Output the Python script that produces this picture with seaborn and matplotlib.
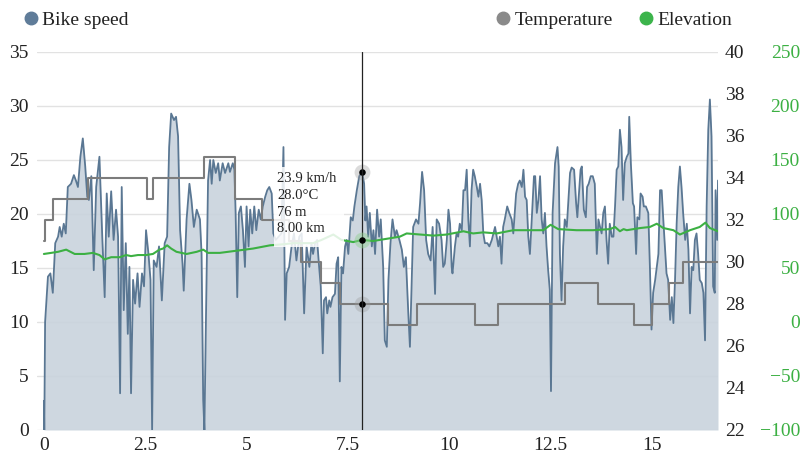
import matplotlib
matplotlib.use("Agg")
import matplotlib.pyplot as plt
from matplotlib.lines import Line2D
from matplotlib.patches import Rectangle
import pandas as pd
import seaborn as sns

# Bike speed (km/h) against distance (km)
speed_km = [
    0.00, 0.01, 0.03, 0.10, 0.16, 0.22, 0.28, 0.35, 0.39, 0.44, 0.49, 0.54, 0.59, 0.67, 0.74, 0.79,
    0.84, 0.90, 0.96, 1.02, 1.07, 1.11, 1.17, 1.23, 1.29, 1.37, 1.44, 1.50, 1.55, 1.60, 1.66, 1.72,
    1.78, 1.83, 1.88, 1.92, 1.97, 2.02, 2.07, 2.11, 2.15, 2.20, 2.25, 2.31, 2.36, 2.42, 2.47, 2.52,
    2.58, 2.63, 2.67, 2.71, 2.78, 2.84, 2.91, 2.98, 3.04, 3.09, 3.14, 3.21, 3.26, 3.31, 3.36, 3.42,
    3.45, 3.52, 3.59, 3.64, 3.70, 3.77, 3.85, 3.89, 3.93, 3.96, 4.00, 4.05, 4.10, 4.14, 4.18, 4.24,
    4.30, 4.34, 4.41, 4.47, 4.55, 4.59, 4.66, 4.70, 4.73, 4.77, 4.81, 4.86, 4.91, 4.96, 5.00, 5.05,
    5.09, 5.14, 5.19, 5.24, 5.30, 5.35, 5.40, 5.46, 5.51, 5.56, 5.62, 5.66, 5.72, 5.79, 5.86, 5.91,
    5.95, 5.99, 6.05, 6.11, 6.17, 6.23, 6.30, 6.36, 6.42, 6.48, 6.55, 6.60, 6.64, 6.69, 6.74, 6.79,
    6.83, 6.88, 6.91, 6.96, 6.99, 7.04, 7.07, 7.12, 7.18, 7.22, 7.26, 7.30, 7.34, 7.38, 7.43, 7.47,
    7.51, 7.57, 7.62, 7.66, 7.72, 7.78, 7.85, 7.90, 7.93, 7.96, 8.00, 8.04, 8.09, 8.13, 8.17, 8.22,
    8.27, 8.31, 8.37, 8.41, 8.46, 8.50, 8.55, 8.60, 8.66, 8.70, 8.77, 8.83, 8.88, 8.93, 8.99, 9.03,
    9.07, 9.11, 9.18, 9.24, 9.28, 9.33, 9.38, 9.43, 9.48, 9.54, 9.59, 9.65, 9.69, 9.75, 9.81, 9.85,
    9.89, 9.94, 9.98, 10.02, 10.06, 10.08, 10.14, 10.18, 10.22, 10.26, 10.31, 10.35, 10.39, 10.43, 10.47, 10.51,
    10.55, 10.59, 10.63, 10.68, 10.72, 10.76, 10.80, 10.84, 10.88, 10.94, 10.99, 11.05, 11.09, 11.13, 11.17, 11.21,
    11.25, 11.29, 11.33, 11.37, 11.43, 11.48, 11.54, 11.58, 11.65, 11.70, 11.74, 11.79, 11.83, 11.87, 11.91, 11.95,
    11.99, 12.03, 12.09, 12.12, 12.16, 12.20, 12.24, 12.28, 12.32, 12.36, 12.40, 12.44, 12.48, 12.51, 12.55, 12.61,
    12.67, 12.70, 12.73, 12.77, 12.81, 12.85, 12.90, 12.98, 13.02, 13.08, 13.13, 13.16, 13.21, 13.24, 13.27, 13.32,
    13.37, 13.40, 13.44, 13.49, 13.54, 13.59, 13.64, 13.68, 13.72, 13.76, 13.80, 13.84, 13.88, 13.92, 13.96, 14.01,
    14.05, 14.09, 14.13, 14.17, 14.21, 14.25, 14.29, 14.33, 14.38, 14.42, 14.44, 14.48, 14.53, 14.56, 14.61, 14.64,
    14.69, 14.72, 14.77, 14.80, 14.85, 14.91, 14.95, 14.99, 15.03, 15.08, 15.12, 15.16, 15.20, 15.24, 15.28, 15.32,
    15.36, 15.40, 15.45, 15.49, 15.53, 15.57, 15.61, 15.65, 15.69, 15.73, 15.77, 15.82, 15.86, 15.90, 15.94, 15.98,
    16.02, 16.06, 16.10, 16.14, 16.18, 16.23, 16.27, 16.31, 16.35, 16.39, 16.43, 16.47, 16.51, 16.55, 16.57, 16.61,
    16.63,
]
speed_kmh = [
    2.7, 0.0, 10.0, 14.2, 14.5, 12.7, 17.3, 17.9, 18.8, 17.9, 19.1, 18.2, 22.5, 22.8, 23.6, 23.1,
    22.5, 25.3, 27.0, 24.4, 21.6, 21.3, 23.5, 14.8, 22.5, 25.3, 17.9, 12.3, 21.9, 17.9, 22.1, 17.6,
    20.4, 17.9, 3.4, 22.5, 11.1, 17.3, 8.9, 15.1, 3.4, 13.9, 11.7, 14.5, 11.4, 14.5, 13.3, 18.5,
    16.3, 13.9, 0.0, 15.7, 15.1, 17.0, 12.0, 17.3, 17.9, 26.2, 29.3, 28.7, 29.0, 27.2, 18.5, 15.4,
    12.9, 19.5, 22.8, 21.3, 18.8, 20.4, 19.5, 16.3, 2.8, 0.0, 10.8, 23.1, 25.0, 22.8, 25.0, 23.8,
    24.7, 23.1, 24.7, 23.8, 24.7, 23.9, 24.7, 24.1, 20.1, 12.3, 20.1, 20.7, 18.5, 15.1, 20.7, 17.0,
    20.4, 18.2, 20.7, 18.5, 20.4, 19.5, 20.7, 21.6, 22.2, 22.5, 21.9, 18.2, 17.6, 17.9, 18.2, 26.2,
    10.2, 14.5, 15.1, 17.0, 18.2, 15.7, 17.9, 18.2, 10.8, 17.0, 15.1, 17.3, 16.3, 17.3, 17.6, 15.1,
    13.3, 7.1, 12.0, 12.3, 10.8, 12.0, 11.4, 12.3, 12.6, 15.4, 16.0, 4.5, 15.1, 14.5, 17.0, 17.6,
    16.3, 19.7, 19.4, 20.7, 22.2, 23.5, 23.9, 22.8, 19.4, 20.7, 17.9, 20.1, 17.0, 18.5, 16.3, 20.4,
    17.9, 19.5, 15.1, 8.3, 7.7, 13.9, 17.3, 19.5, 17.9, 18.5, 17.6, 16.7, 15.1, 16.0, 10.8, 7.7,
    13.3, 18.8, 19.5, 19.1, 21.0, 23.9, 22.2, 17.6, 16.3, 15.7, 18.8, 12.6, 19.5, 19.1, 17.6, 15.1,
    15.4, 17.6, 20.4, 19.1, 15.1, 14.5, 17.0, 18.2, 17.9, 19.1, 18.5, 22.2, 22.2, 24.1, 19.5, 17.0,
    22.2, 24.1, 23.5, 22.5, 21.6, 22.8, 21.3, 18.2, 17.3, 17.3, 17.0, 17.6, 18.2, 18.8, 17.9, 17.0,
    17.9, 15.4, 18.8, 19.5, 20.7, 20.1, 19.5, 18.2, 21.9, 22.8, 23.1, 22.5, 24.1, 21.6, 21.3, 17.9,
    16.3, 19.1, 23.5, 23.5, 20.1, 21.3, 23.5, 19.5, 18.2, 20.1, 17.0, 14.8, 13.0, 3.6, 20.1, 24.7,
    26.2, 24.4, 16.3, 12.0, 17.0, 19.5, 18.8, 23.8, 24.3, 24.1, 21.0, 19.7, 22.5, 24.1, 24.4, 20.4,
    19.7, 22.5, 22.8, 23.5, 23.5, 22.8, 16.3, 19.5, 18.8, 18.2, 20.1, 20.7, 17.6, 15.4, 19.1, 17.9,
    17.9, 20.7, 24.1, 24.4, 27.8, 26.2, 21.3, 24.7, 25.3, 25.6, 29.0, 24.7, 21.0, 20.7, 16.3, 19.7,
    19.5, 21.9, 21.6, 20.7, 20.7, 20.1, 15.1, 9.3, 12.7, 13.9, 15.1, 16.3, 22.2, 22.2, 19.5, 17.0,
    14.5, 13.9, 10.2, 12.3, 9.9, 13.9, 19.1, 22.5, 24.4, 22.5, 20.1, 17.6, 19.1, 16.7, 10.8, 15.1,
    14.8, 17.6, 18.2, 16.3, 13.9, 13.6, 12.7, 8.3, 20.7, 27.8, 30.6, 27.2, 13.3, 12.7, 22.2, 17.6,
    23.1,
]

# Temperature (°C), stepped
temp_km = [0.00, 0.03, 0.22, 1.10, 2.54, 2.69, 3.96, 4.71, 5.37, 6.05, 6.34, 6.83, 7.30,
           8.50, 9.20, 10.63, 11.21, 12.85, 13.66, 14.57, 15.01, 15.42, 15.77, 16.63]
temp_c = [31, 32, 33, 34, 33, 34, 35, 33, 32, 31, 30, 29, 28,
          27, 28, 27, 28, 29, 28, 27, 28, 29, 30, 30]

# Elevation (m)
elev_km = [0.00, 0.18, 0.35, 0.55, 0.76, 0.88, 1.00, 1.21, 1.37, 1.50, 1.66, 1.87, 2.03, 2.15,
           2.32, 2.52, 2.69, 2.85, 2.94, 3.04, 3.14, 3.27, 3.52, 3.77, 3.93, 4.05, 4.34, 4.75,
           5.16, 5.58, 5.91, 6.15, 6.32, 6.64, 6.85, 7.14, 7.34, 7.63, 7.85, 8.12, 8.45, 8.78,
           8.95, 9.28, 9.61, 9.94, 10.35, 10.59, 10.84, 11.17, 11.58, 11.99, 12.32, 12.50, 12.69,
           13.14, 13.55, 13.97, 14.09, 14.21, 14.30, 14.38, 14.71, 14.95, 15.12, 15.28, 15.53,
           15.69, 15.94, 16.18, 16.32, 16.43, 16.63]
elev_m = [63, 64, 65, 67, 63, 63, 63, 64, 62, 58, 60, 60, 62, 61,
          62, 62, 63, 67, 68, 71, 68, 65, 63, 65, 67, 64, 64, 66,
          68, 71, 72, 73, 73, 73, 76, 81, 76, 74, 76, 75, 77, 79,
          82, 81, 80, 81, 84, 82, 83, 82, 85, 85, 85, 90, 86,
          85, 85, 86, 88, 84, 86, 85, 87, 88, 91, 87, 85,
          81, 85, 88, 92, 87, 84]

# hovered point
hover_km = 7.85
hover_speed = 23.9
hover_temp = 28.0
hover_elev = 76
hover_lines = ["23.9 km/h", "28.0°C", "76 m", "8.00 km"]

speed_ticks = [0, 5, 10, 15, 20, 25, 30, 35]
temp_ticks = [22, 24, 26, 28, 30, 32, 34, 36, 38, 40]
elev_ticks = [-100, -50, 0, 50, 100, 150, 200, 250]
x_ticks = [0, 2.5, 5, 7.5, 10, 12.5, 15]
x_labels = ["0", "2.5", "5", "7.5", "10", "12.5", "15"]

SPEED = "#5a7793"
FILL = "#c9d3dd"
TEMP = "#7c7c7c"
ELEV = "#3cb043"
TXT = "#222222"

sns.set_style("white")
plt.rcParams["font.family"] = ["Liberation Serif", "DejaVu Serif"]

fig = plt.figure(figsize=(8.03, 4.58), dpi=100)
ax = fig.add_axes([37 / 803, 28 / 458, 681 / 803, 378 / 458])
ax2 = ax.twinx()
ax3 = ax.twinx()

speed = pd.DataFrame({"km": speed_km, "speed": speed_kmh})
temp = pd.DataFrame({"km": temp_km, "temp": temp_c})
elev = pd.DataFrame({"km": elev_km, "elev": elev_m})

ax.fill_between(speed["km"], speed["speed"], color=FILL, alpha=0.9, lw=0, zorder=1)
sns.lineplot(data=speed, x="km", y="speed", ax=ax, color=SPEED, lw=1.3,
             estimator=None, sort=False, zorder=2)
sns.lineplot(data=temp, x="km", y="temp", ax=ax2, color=TEMP, lw=1.5,
             drawstyle="steps-post", estimator=None, sort=False)
sns.lineplot(data=elev, x="km", y="elev", ax=ax3, color=ELEV, lw=1.5,
             estimator=None, sort=False)

ax.set_xlim(-0.17, 16.63)
ax.set_ylim(0, 35)
ax2.set_ylim(22, 40)
ax3.set_ylim(-100, 250)
ax.set_xticks(x_ticks)
ax.set_xticklabels(x_labels)
ax.set_yticks(speed_ticks)
ax2.set_yticks(temp_ticks)
ax3.set_yticks(elev_ticks)

ax.grid(axis="y", color="#e2e2e2", lw=1)
ax.grid(axis="x", visible=False)
ax.set_axisbelow(True)

for a in (ax, ax2, ax3):
    a.set_xlabel("")
    a.set_ylabel("")
    for s in a.spines.values():
        s.set_visible(False)

ax.tick_params(axis="y", length=0, pad=6, labelsize=14, labelcolor=TXT)
ax.tick_params(axis="x", length=0, pad=5, labelsize=14, labelcolor=TXT)
ax2.tick_params(axis="y", length=0, pad=5, labelsize=14, labelcolor=TXT)
ax3.tick_params(axis="y", length=0, pad=59, labelsize=14, labelcolor=ELEV)
for lbl in ax3.get_yticklabels():
    lbl.set_horizontalalignment("right")

# hover crosshair and markers
ax3.axvline(hover_km, color="#222222", lw=0.9, zorder=5)
ax.scatter([hover_km], [hover_speed], s=130, color="#9a9a9a", alpha=0.35, lw=0, zorder=6)
ax.scatter([hover_km], [hover_speed], s=22, color="black", lw=0, zorder=7)
ax2.scatter([hover_km], [hover_temp], s=130, color="#9a9a9a", alpha=0.35, lw=0, zorder=6)
ax2.scatter([hover_km], [hover_temp], s=22, color="black", lw=0, zorder=7)
ax3.scatter([hover_km], [hover_elev], s=130, color="#8fd08f", alpha=0.45, lw=0, zorder=6)
ax3.scatter([hover_km], [hover_elev], s=22, color="black", lw=0, zorder=7)

# tooltip
fig.add_artist(Rectangle((274 / 803, 1 - 247 / 458), 70 / 803, 80 / 458,
                         transform=fig.transFigure, facecolor="white", alpha=0.85,
                         lw=0, zorder=10))
fig.text(277 / 803, 1 - 172 / 458, "\n".join(hover_lines), va="top", ha="left",
         fontsize=10.5, linespacing=1.38, color=TXT, zorder=11)

# legends
def dot(c):
    return Line2D([], [], marker="o", linestyle="", markersize=9, color=c)

leg1 = fig.legend(handles=[dot("#5f7c99")], labels=["Bike speed"], loc="center left",
                  bbox_to_anchor=(21 / 803, 1 - 20 / 458), frameon=False, fontsize=14,
                  handletextpad=0.1, handlelength=1.0, borderpad=0, borderaxespad=0,
                  labelcolor=TXT)
leg2 = fig.legend(handles=[dot("#8a8a8a"), dot("#3cb44b")], labels=["Temperature", "Elevation"],
                  loc="center right", bbox_to_anchor=(732 / 803, 1 - 20 / 458), ncol=2,
                  frameon=False, fontsize=14, handletextpad=0.1, handlelength=1.0,
                  columnspacing=1.2, borderpad=0, borderaxespad=0, labelcolor=TXT)

fig.savefig("out.png", dpi=100)
